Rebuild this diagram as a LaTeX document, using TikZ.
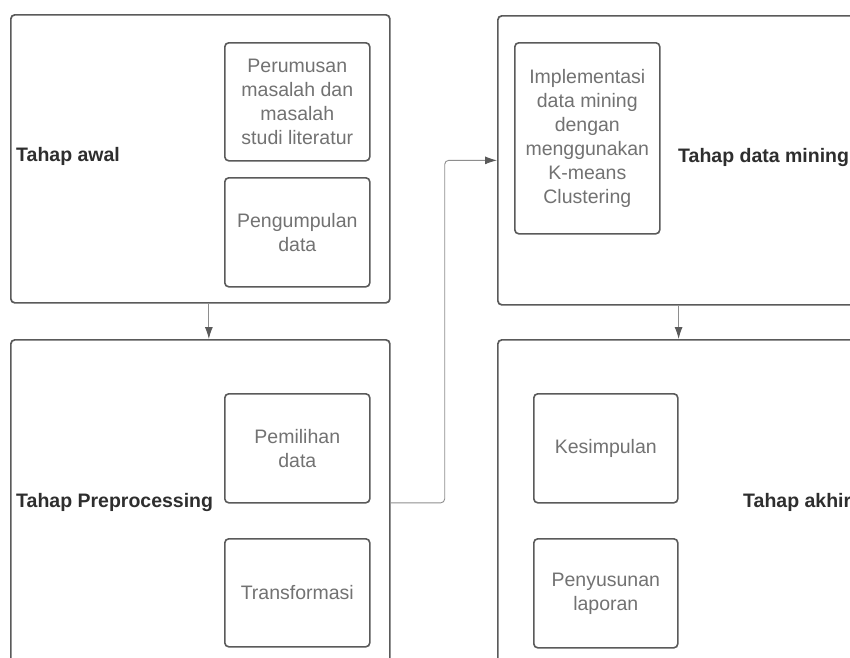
\documentclass[tikz,border=0pt]{standalone}
\usepackage{fontspec}
\setmainfont{Liberation Sans}
\usepackage{tikz}
\usetikzlibrary{arrows.meta}
\definecolor{framegray}{HTML}{5A5A5A}
\definecolor{textgray}{HTML}{727272}
\definecolor{linegray}{HTML}{8E8E8E}
\definecolor{labelgray}{HTML}{2E2E2E}

\begin{document}
\begin{tikzpicture}[x=1pt,y=-1pt,
		tahap/.style={draw=framegray,line width=1.7pt,rounded corners=4pt,anchor=north west,inner sep=0pt},
		langkah/.style={draw=framegray,line width=1.6pt,rounded corners=4pt,anchor=north west,inner sep=0pt,text=textgray,align=center,font=\fontsize{19.5}{24}\selectfont},
		judul/.style={anchor=west,inner sep=0pt,text=labelgray,font=\bfseries\fontsize{19.5}{24}\selectfont},
		panah/.style={draw=linegray,line width=0.9pt,-{Latex[length=12pt,width=8pt,color=framegray]}}]
		\def\kanvas{(0,0) rectangle (850,657)}
		\fill[white] \kanvas;
		\useasboundingbox \kanvas;
		\clip \kanvas;
		% kolom kiri
		\node[tahap,minimum width=379pt,minimum height=288pt] (awal) at (10,14) {};
		\node[langkah,minimum width=145pt,minimum height=118pt] (rumusan) at (224,42) {Perumusan\\masalah dan\\masalah\\studi literatur};
		\node[langkah,minimum width=145pt,minimum height=109pt] (kumpul) at (224,177) {Pengumpulan\\data};
		\node[judul] (judulawal) at (16,156) {Tahap awal};
		\node[tahap,minimum width=379pt,minimum height=326pt] (prep) at (10,339) {};
		\node[langkah,minimum width=145pt,minimum height=109pt] (pilih) at (224,393) {Pemilihan\\data};
		\node[langkah,minimum width=145pt,minimum height=108pt] (transform) at (224,538) {Transformasi};
		\node[judul] (judulprep) at (16,502) {Tahap Preprocessing};
		% kolom kanan
		\node[tahap,minimum width=420pt,minimum height=289pt] (mining) at (497,15) {};
		\node[langkah,minimum width=145pt,minimum height=191pt] (implement) at (514,42) {Implementasi\\data mining\\dengan\\menggunakan\\K-means\\Clustering};
		\node[judul] (judulmining) at (678,157) {Tahap data mining};
		\node[tahap,minimum width=420pt,minimum height=326pt] (akhir) at (497,339) {};
		\node[langkah,minimum width=144pt,minimum height=109pt] (simpul) at (533,393) {Kesimpulan};
		\node[langkah,minimum width=144pt,minimum height=109pt] (laporan) at (533,538) {Penyusunan\\laporan};
		\node[judul] (judulakhir) at (743,502) {Tahap akhir};
		% alur
		\draw[panah] ([xshift=8.5pt]awal.south) -- ([xshift=8.5pt]awal.south |- prep.north);
		\draw[panah,rounded corners=4pt] (prep.east) -- ++(54,0) |- (mining.west);
		\draw[panah] (mining.south -| simpul.east) -- (simpul.east |- akhir.north);
	\end{tikzpicture}
\end{document}
